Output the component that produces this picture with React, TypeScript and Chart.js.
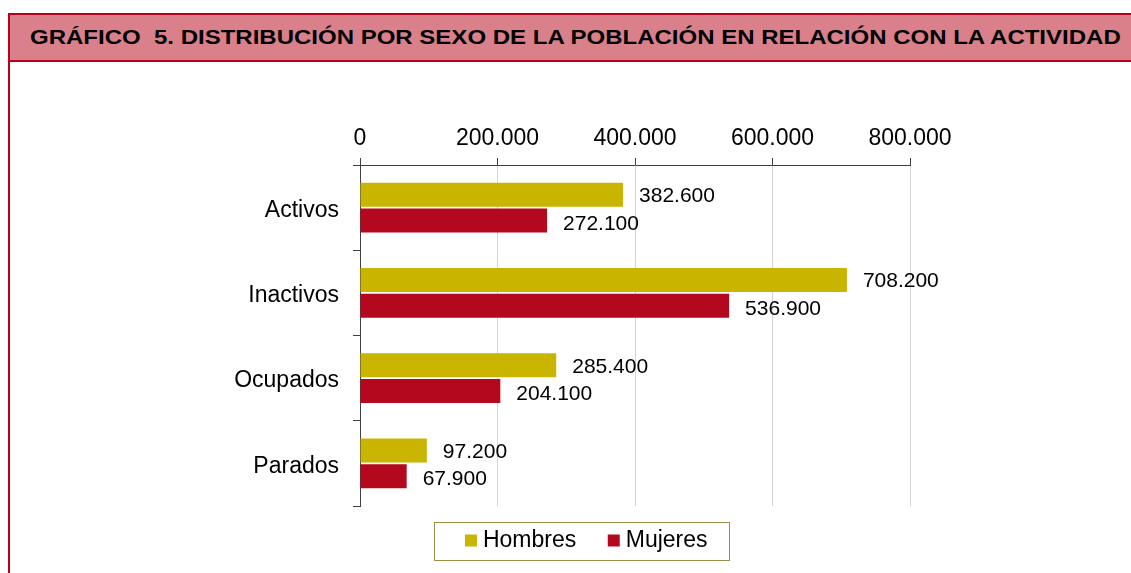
import React, { useEffect, useRef } from "react";
import { Chart, registerables } from "chart.js";

Chart.register(...registerables);

const categories = ["Activos", "Inactivos", "Ocupados", "Parados"];
const hombres = [382600, 708200, 285400, 97200];
const mujeres = [272100, 536900, 204100, 67900];
const seriesNames = ["Hombres", "Mujeres"];
const xTicks = [0, 200000, 400000, 600000, 800000];
const title = "GRÁFICO  5. DISTRIBUCIÓN POR SEXO DE LA POBLACIÓN EN RELACIÓN CON LA ACTIVIDAD";

const FONT = '"Liberation Sans", Arial, sans-serif';
const C_H = "#c9b400";
const C_M = "#b3081e";
const RED = "#b8001c";

const fmt = (v: number) =>
  Math.round(v)
    .toString()
    .replace(/\B(?=(\d{3})+(?!\d))/g, ".");

const labelPlugin = {
  id: "valueLabels",
  afterDatasetsDraw(chart: any) {
    const ctx = chart.ctx;
    ctx.save();
    ctx.font = `21px ${FONT}`;
    ctx.fillStyle = "#000";
    ctx.textAlign = "left";
    ctx.textBaseline = "middle";
    const offs = [1.5, 3.5];
    chart.data.datasets.forEach((ds: any, di: number) => {
      const meta = chart.getDatasetMeta(di);
      meta.data.forEach((el: any, i: number) => {
        ctx.fillText(fmt(ds.data[i]), el.x + 16, el.y + offs[di]);
      });
    });
    ctx.restore();
  },
};

// legend offset within the page (the legend box is centred below the plot, slightly left of its centre)
const LEGEND_SHIFT_X = 34;
const LEGEND_SHIFT_Y = -14;

const legendPlugin = {
  id: "legendFrame",
  afterLayout(chart: any) {
    const lg = chart.legend;
    if (lg) {
      lg.top += LEGEND_SHIFT_Y;
      lg.bottom += LEGEND_SHIFT_Y;
      lg.left += LEGEND_SHIFT_X;
      lg.right += LEGEND_SHIFT_X;
    }
  },
  afterDraw(chart: any) {
    const lg = chart.legend;
    if (!lg || !lg.legendHitBoxes || !lg.legendHitBoxes.length) return;
    const hb = lg.legendHitBoxes;
    const first = hb[0];
    const last = hb[hb.length - 1];
    const cy = first.top + first.height / 2;
    const left = first.left - 6 - 30;
    const right = last.left + last.width + 22;
    const ctx = chart.ctx;
    ctx.save();
    ctx.strokeStyle = "#9d8f4b";
    ctx.lineWidth = 1;
    ctx.strokeRect(Math.round(left) + 0.5, Math.round(cy - 19) + 0.5, Math.round(right - left), 38);
    ctx.restore();
  },
};

export default function App() {
  const ref = useRef<HTMLCanvasElement | null>(null);

  useEffect(() => {
    document.body.style.margin = "0";
    if (!ref.current) return;
    const chart = new Chart(ref.current, {
      type: "bar",
      data: {
        labels: categories,
        datasets: [
          {
            label: seriesNames[0],
            data: hombres,
            backgroundColor: C_H,
            categoryPercentage: 0.6,
            barPercentage: 0.94,
          },
          {
            label: seriesNames[1],
            data: mujeres,
            backgroundColor: C_M,
            categoryPercentage: 0.6,
            barPercentage: 0.94,
          },
        ],
      },
      options: {
        indexAxis: "y",
        responsive: false,
        animation: false,
        devicePixelRatio: 1,
        layout: { padding: { top: 0, left: 200, right: 221, bottom: 0 } },
        plugins: {
          title: { display: false },
          tooltip: { enabled: false },
          legend: {
            position: "bottom",
            maxHeight: 67,
            labels: {
              font: { family: FONT, size: 23 },
              color: "#000",
              usePointStyle: true,
              pointStyle: "rect",
              boxWidth: 1,
              boxHeight: 12,
              padding: 37,
            },
          },
        },
        scales: {
          x: {
            position: "top",
            min: 0,
            max: 800000,
            afterFit: (s: any) => {
              s.height = 165;
            },
            afterBuildTicks: (s: any) => {
              s.ticks = xTicks.map((v) => ({ value: v }));
            },
            ticks: {
              font: { family: FONT, size: 23 },
              color: "#000",
              padding: 6,
              maxRotation: 0,
              callback: (v: any) => fmt(Number(v)),
            },
            grid: {
              color: "#d4d4d4",
              tickColor: "#404040",
              tickLength: 7,
              lineWidth: 1,
            },
            border: { display: true, color: "#404040", width: 1 },
          },
          y: {
            afterFit: (s: any) => {
              s.width = 160;
            },
            ticks: {
              font: { family: FONT, size: 23 },
              color: "#000",
              padding: 14,
              labelOffset: 3,
            },
            grid: {
              offset: true,
              color: (c: any) => (c.index === categories.length ? "#d4d4d4" : "rgba(0,0,0,0)"),
              tickColor: "#404040",
              tickLength: 7,
            },
            border: { display: true, color: "#404040", width: 1 },
          },
        },
      },
      plugins: [labelPlugin, legendPlugin],
    } as any);
    return () => chart.destroy();
  }, []);

  return (
    <div style={{ position: "relative", width: 1131, height: 573, overflow: "hidden", background: "#fff" }}>
      <canvas
        ref={ref}
        width={1131}
        height={573}
        style={{ position: "absolute", left: 0, top: 0, width: 1131, height: 573 }}
      />
      <div
        style={{
          position: "absolute",
          left: 8,
          top: 13,
          width: 1200,
          height: 49,
          boxSizing: "border-box",
          background: "#d9808a",
          border: `2px solid ${RED}`,
          paddingLeft: 20,
          fontFamily: FONT,
          fontWeight: "bold",
          fontSize: 20,
          lineHeight: "45px",
          color: "#000",
          whiteSpace: "pre",
        }}
      >
        <span style={{ display: "inline-block", transform: "scaleX(1.2)", transformOrigin: "left center" }}>{title}</span>
      </div>
      <div style={{ position: "absolute", left: 8, top: 13, width: 2, height: 600, background: RED }} />
    </div>
  );
}
